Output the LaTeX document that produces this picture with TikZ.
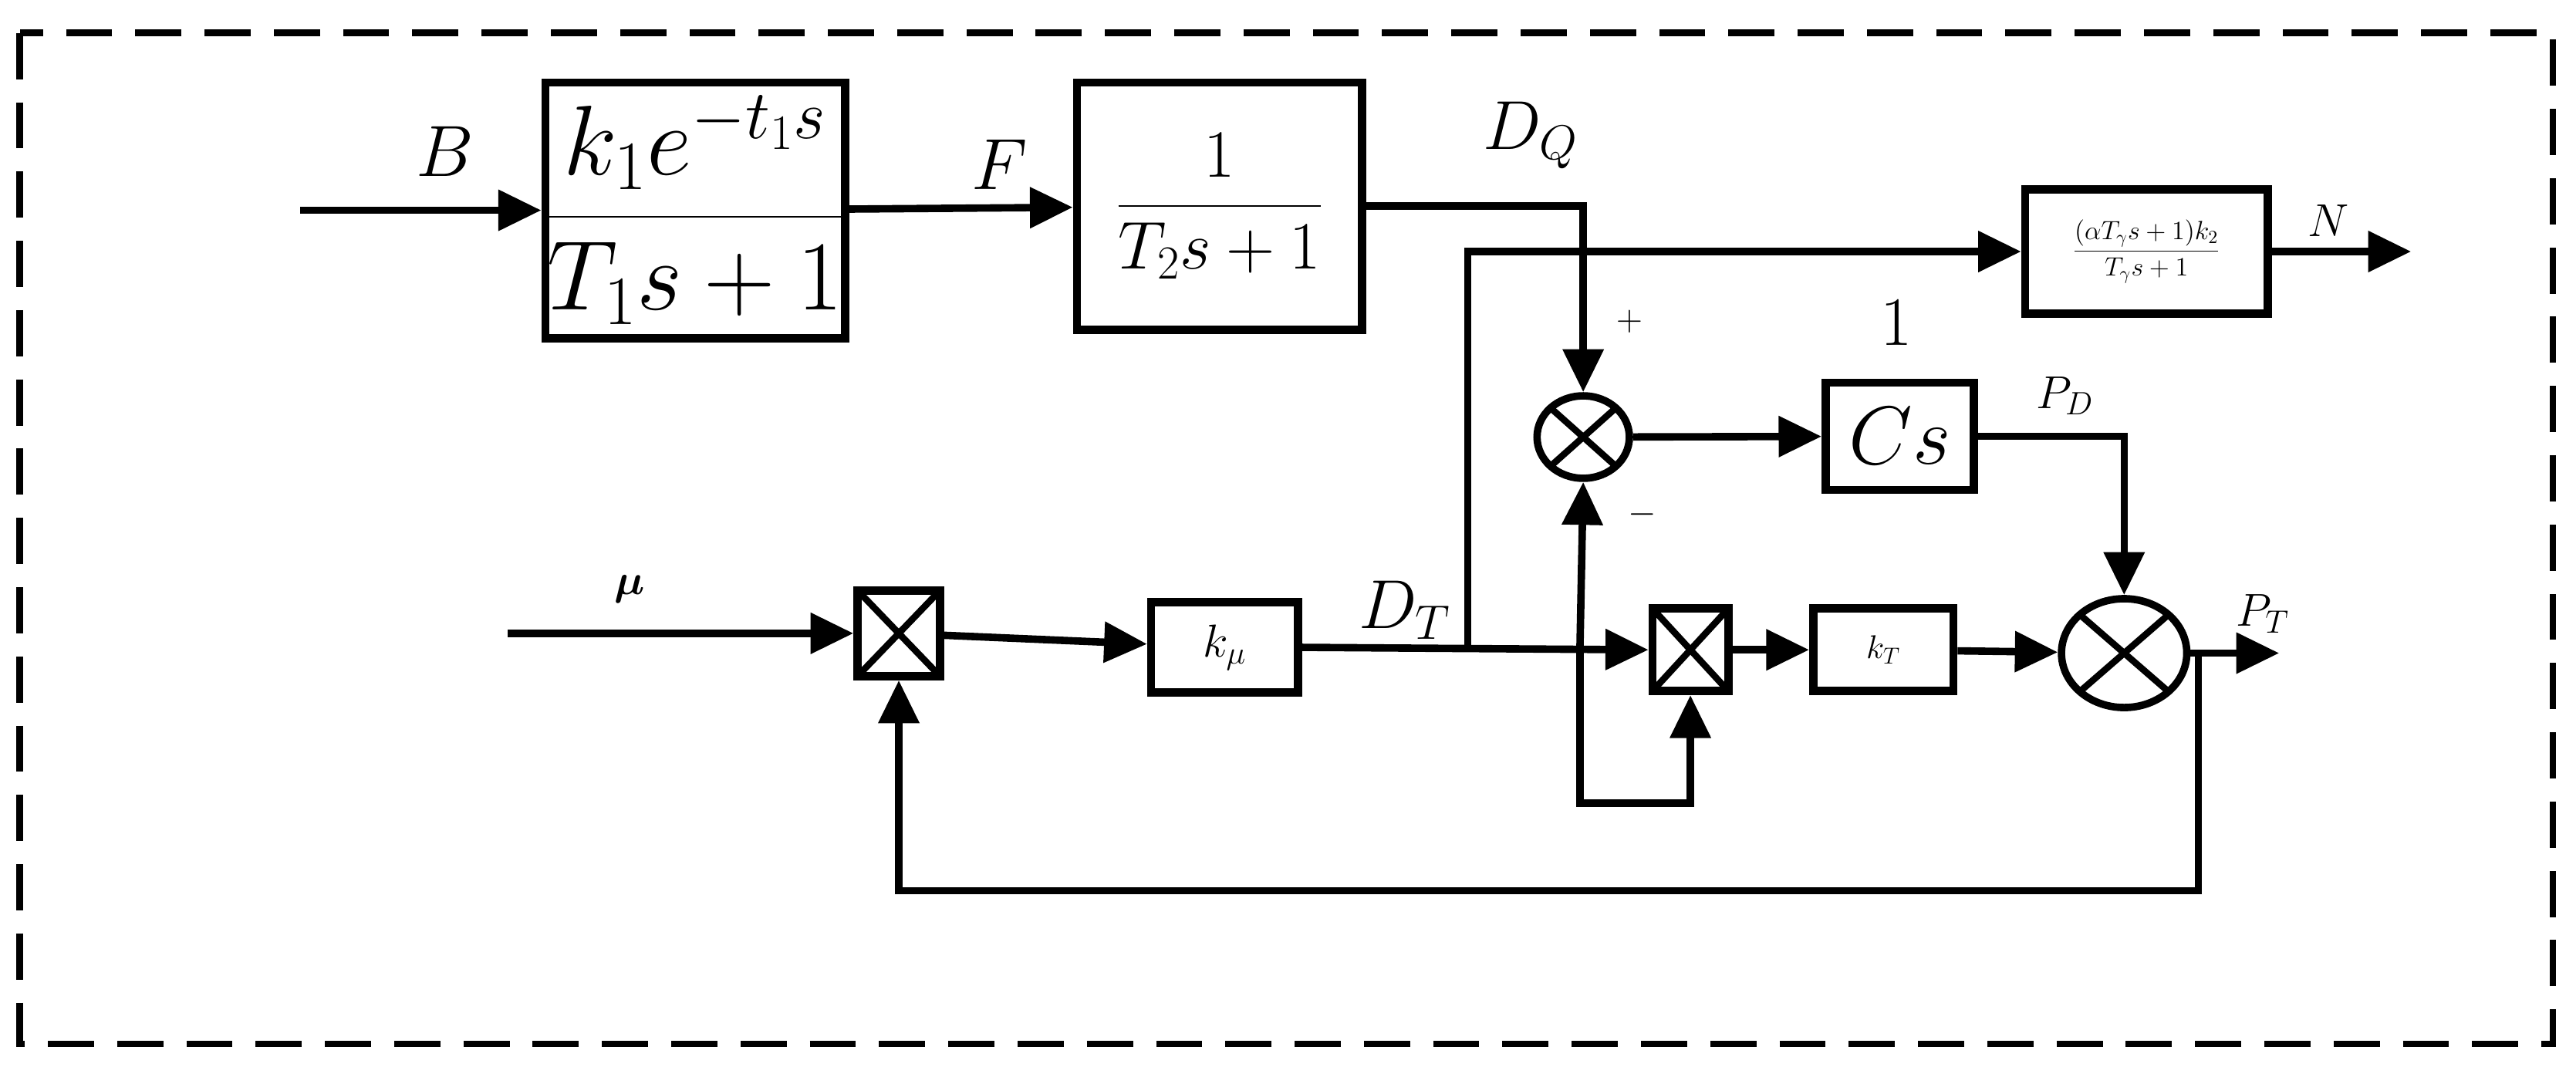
\RequirePackage{fix-cm}
\documentclass[tikz,border=0pt]{standalone}
\usepackage{amsmath}
\usetikzlibrary{arrows.meta,shapes.geometric}
\begin{document}
\begin{tikzpicture}[x=1pt,y=-1pt,
  ln/.style={line width=4.5pt},
  ar/.style={ln,-{Triangle[length=26pt,width=24pt]}},
  blk/.style={draw,line width=5pt,rectangle,inner sep=0pt},
  crs/.style={path picture={\draw[line width=4pt] (path picture bounding box.north west)--(path picture bounding box.south east) (path picture bounding box.south west)--(path picture bounding box.north east);}},
  mul/.style={blk,crs},
  sm/.style={draw,line width=4.5pt,ellipse,inner sep=0pt,crs},
  lab/.style={inner sep=0pt}]
\useasboundingbox (0,0) rectangle (1562,657);
\draw[line width=4pt,dash pattern=on 28pt off 14pt] (12,20) rectangle (1548,633);
% blocks
\node[blk,minimum width=173pt,minimum height=155pt] (b1) at (421.5,127.5) {\fontsize{60}{66}\selectfont$\dfrac{k_1e^{-t_1s}}{T_1s+1}$};
\node[blk,minimum width=173pt,minimum height=150pt] (b2) at (739.5,125) {\fontsize{41}{46}\selectfont$\dfrac{1}{T_2s+1}$};
\node[blk,minimum width=147pt,minimum height=75pt] (bN) at (1301.5,152.5) {\fontsize{16}{18}\selectfont$\dfrac{(\alpha T_\gamma s+1)k_2}{T_\gamma s+1}$};
\node[blk,minimum width=90pt,minimum height=65pt] (cs) at (1152,264.5) {\fontsize{50}{55}\selectfont$Cs$};
\node[blk,minimum width=89pt,minimum height=55pt] (km) at (742.5,392.5) {\fontsize{28}{32}\selectfont$k_\mu$};
\node[blk,minimum width=85pt,minimum height=50pt] (kt) at (1142,394) {\fontsize{20}{24}\selectfont$k_T$};
\node[mul,minimum width=50pt,minimum height=52pt] (m1) at (545,384) {};
\node[mul,minimum width=46pt,minimum height=50pt] (m2) at (1025,394) {};
\node[sm,minimum width=56pt,minimum height=50pt] (s1) at (960,265) {};
\node[sm,minimum width=76pt,minimum height=66pt] (s2) at (1288,396) {};
% coordinates
\coordinate (inB) at (182,127.5);
\coordinate (inM) at (308,384);
\coordinate (oN) at (1462,152.5);
\coordinate (oP) at (1382,396);
\coordinate (br1) at (890,394);
\coordinate (br2) at (958,394);
\coordinate (lp) at (958,487);
\coordinate (fb) at (1333,396);
\coordinate (fb2) at (1333,540);
% connectors
\draw[ar] (inB) -- (b1.west);
\draw[ar] (b1) -- (b2);
\draw[ar] (b2.east) -| (s1.north);
\draw[ar] (br1) |- (bN.west);
\draw[ar] (bN.east) -- (oN);
\draw[ar] (inM) -- (m1.west);
\draw[ar] (m1) -- (km);
\draw[ar] (km.east) -- (m2.west);
\draw[ar] (br2) -- (s1.south);
\draw[ar] (br2) -- (lp) -| (m2.south);
\draw[ar] (m2) -- (kt);
\draw[ar] (kt) -- (s2);
\draw[ar] (s1) -- (cs);
\draw[ar] (cs.east) -| (s2.north);
\draw[ar] (s2.east) -- (oP);
\draw[ar] (fb) -- (fb2) -| (m1.south);
% labels
\node[lab] (lB) at (270,92) {\fontsize{44}{48}\selectfont$B$};
\node[lab] (lF) at (606,100) {\fontsize{44}{48}\selectfont$F$};
\node[lab] (lDQ) at (928,82) {\fontsize{42}{46}\selectfont$D_Q$};
\node[lab] (lp1) at (988,195) {\fontsize{22}{24}\selectfont$+$};
\node[lab] (lm1) at (996,312) {\fontsize{22}{24}\selectfont$-$};
\node[lab] (l1) at (1150,196) {\fontsize{42}{46}\selectfont$1$};
\node[lab] (lPD) at (1252,240) {\fontsize{28}{32}\selectfont$P_D$};
\node[lab] (lPT) at (1372,372) {\fontsize{28}{32}\selectfont$P_T$};
\node[lab] (lN) at (1412,134) {\fontsize{28}{32}\selectfont$N$};
\node[lab] (lmu) at (382,357) {\fontsize{26}{30}\selectfont$\boldsymbol{\mu}$};
\node[lab] (lDT) at (852,370) {\fontsize{42}{46}\selectfont$D_T$};
\end{tikzpicture}
\end{document}
